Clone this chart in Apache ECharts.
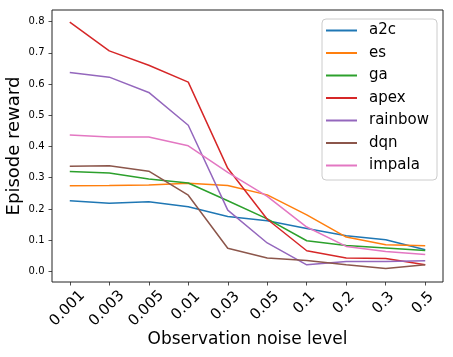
<!DOCTYPE html>
<html>
<head>
<meta charset="utf-8">
<script src="https://cdn.jsdelivr.net/npm/echarts@6/dist/echarts.min.js"></script>
<style>
html,body{margin:0;padding:0;background:#fff;}
#chart{width:453px;height:357px;}
</style>
</head>
<body>
<div id="chart"></div>
<script>
const categories = ['0.001','0.003','0.005','0.01','0.03','0.05','0.1','0.2','0.3','0.5'];
const yTicks = [0.0,0.1,0.2,0.3,0.4,0.5,0.6,0.7,0.8];
const seriesNames = ['a2c','es','ga','apex','rainbow','dqn','impala'];
const a2c     = [0.226,0.218,0.223,0.207,0.176,0.162,0.137,0.114,0.101,0.069];
const es      = [0.274,0.275,0.277,0.282,0.275,0.245,0.181,0.110,0.085,0.082];
const ga      = [0.320,0.315,0.296,0.283,0.226,0.168,0.098,0.083,0.075,0.067];
const apex    = [0.798,0.706,0.660,0.606,0.330,0.167,0.066,0.043,0.041,0.021];
const rainbow = [0.637,0.622,0.573,0.468,0.196,0.091,0.021,0.032,0.032,0.034];
const dqn     = [0.337,0.338,0.321,0.244,0.074,0.043,0.035,0.021,0.009,0.021];
const impala  = [0.437,0.430,0.430,0.402,0.317,0.240,0.142,0.080,0.064,0.054];
const colors  = ['#1f77b4','#ff7f0e','#2ca02c','#d62728','#9467bd','#8c564b','#e377c2'];

const allValues = [a2c, es, ga, apex, rainbow, dqn, impala];
const FONT = 'DejaVu Sans';
const idx = categories.map((c, i) => i);
const XMIN = -0.45, XMAX = categories.length - 1 + 0.45;
const LABEL_SHIFT = 0.06; // labels sit slightly left of their ticks

// main axis: ticks + name, no labels
const mainX = {
  type: 'value', min: XMIN, max: XMAX, position: 'bottom',
  splitLine: {show: false},
  axisLine: {show: false, onZero: false},
  axisTick: {show: true, length: 3.5, customValues: idx, lineStyle: {color: '#222', width: 0.8}},
  axisLabel: {show: false},
  name: 'Observation noise level', nameLocation: 'middle', nameGap: 58, nameMoveOverlap: false,
  nameTextStyle: {fontFamily: FONT, fontSize: 17, color: '#000', align: 'center', verticalAlign: 'middle'}
};
// label-only axes (different offsets for different label lengths, as rotated labels hang from their top)
function labelAxis(labelIdx, margin) {
  return {
    type: 'value', min: XMIN + LABEL_SHIFT, max: XMAX + LABEL_SHIFT, position: 'bottom',
    splitLine: {show: false},
    axisLine: {show: false, onZero: false},
    axisTick: {show: false},
    axisLabel: {
      show: true, customValues: labelIdx, rotate: 45, margin: margin,
      align: 'center', verticalAlign: 'middle',
      fontFamily: FONT, fontSize: 15, color: '#000',
      formatter: v => categories[Math.round(v)]
    }
  };
}

const option = {
  animation: false,
  backgroundColor: '#fff',
  grid: {left: 52, right: 10, top: 10, bottom: 75, show: true,
    containLabel: false, outerBoundsMode: 'none',
    borderColor: '#222', borderWidth: 1, backgroundColor: 'transparent'},
  legend: {
    orient: 'vertical', left: 322, top: 19,
    data: seriesNames,
    icon: 'rect',
    itemWidth: 31, itemHeight: 2, itemGap: 5.5,
    padding: [3, 8, 6, 4],
    backgroundColor: 'rgba(255,255,255,0.8)',
    borderColor: '#cccccc', borderWidth: 1, borderRadius: 4,
    textStyle: {fontFamily: FONT, fontSize: 15, lineHeight: 17, color: '#000', padding: [0,0,0,7]}
  },
  xAxis: [
    mainX,
    labelAxis([0,1,2], 26.5),
    labelAxis([3,4,5], 24),
    labelAxis([6,7,8,9], 21)
  ],
  yAxis: {
    type: 'value', min: -0.034, max: 0.837,
    splitLine: {show: false},
    axisLine: {show: false, onZero: false},
    axisTick: {show: true, length: 3.5, customValues: yTicks, lineStyle: {color: '#222', width: 0.8}},
    axisLabel: {customValues: yTicks, margin: 7.5, fontFamily: FONT, fontSize: 10, color: '#000',
      formatter: v => v.toFixed(1)},
    name: 'Episode reward', nameLocation: 'middle', nameGap: 38, nameMoveOverlap: false,
    nameTextStyle: {fontFamily: FONT, fontSize: 18, color: '#000', align: 'center', verticalAlign: 'middle'}
  },
  series: seriesNames.map((name, s) => ({
    name: name, type: 'line', xAxisIndex: 0,
    data: allValues[s].map((v, i) => [i, v]),
    symbol: 'none', smooth: false,
    color: colors[s],
    lineStyle: {width: 1.5, color: colors[s]},
    z: 2 + s
  }))
};

const chart = echarts.init(document.getElementById('chart'), null, {renderer: 'canvas'});
chart.setOption(option);
</script>
</body>
</html>
